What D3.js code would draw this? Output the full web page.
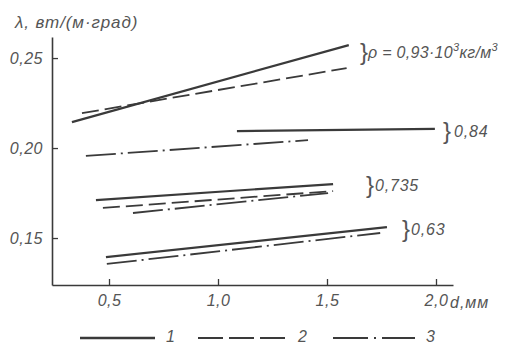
<!DOCTYPE html>
<html>
<head>
<meta charset="utf-8">
<script src="https://cdn.jsdelivr.net/npm/d3@7"></script>
<style>
  html, body { margin: 0; padding: 0; background: #fff; }
  svg { display: block; }
  text { font-family: "Liberation Sans", "DejaVu Sans", sans-serif; font-style: italic; fill: #555; }
</style>
</head>
<body>
<svg id="chart" width="517" height="347"></svg>
<script>
// ---- data (d, мм ; λ, вт/(м·град)) ----
const xTicks = [0.5, 1.0, 1.5, 2.0];
const yTicks = [0.15, 0.20, 0.25];
const curveTypes = ["1", "2", "3"];          // 1 solid, 2 dashed, 3 dash-dot
const densityLabels = ["0,93", "0,84", "0,735", "0,63"];

// ρ = 0.93
const rho093_1 = [[0.33, 0.2144], [1.60, 0.2572]];
const rho093_2 = [[0.376, 0.2194], [1.59, 0.2444]];
// ρ = 0.84
const rho084_1 = [[1.087, 0.2094], [1.995, 0.2106]];
const rho084_3 = [[0.394, 0.1956], [1.413, 0.2044]];
// ρ = 0.735
const rho0735_1 = [[0.44, 0.1711], [1.528, 0.1800]];
const rho0735_2 = [[0.472, 0.1667], [1.528, 0.1761]];
const rho0735_3 = [[0.61, 0.1639], [1.505, 0.1750]];
// ρ = 0.63
const rho063_1 = [[0.486, 0.1394], [1.775, 0.1561]];
const rho063_3 = [[0.49, 0.1356], [1.744, 0.1528]];

const lines = [
  {pts: rho093_1, type: "1"}, {pts: rho093_2, type: "2"},
  {pts: rho084_1, type: "1"}, {pts: rho084_3, type: "3"},
  {pts: rho0735_1, type: "1"}, {pts: rho0735_2, type: "2"}, {pts: rho0735_3, type: "3"},
  {pts: rho063_1, type: "1"}, {pts: rho063_3, type: "3"}
];

const ink = "#3a3a3a";
const dashFor = {"1": null, "2": "17,6", "3": "30,5,2,5"};
const widthFor = {"1": 2.2, "2": 1.8, "3": 1.8};

const svg = d3.select("#chart");
const x = d3.scaleLinear().domain([0.2385, 2.078]).range([52, 453]);
const y = d3.scaleLinear().domain([0.1239, 0.2617]).range([285, 37]);
const comma = f => v => d3.format(f)(v).replace(".", ",");

// axes
const xAxis = d3.axisBottom(x).tickValues(xTicks).tickFormat(comma(".1f"))
  .tickSizeInner(-6).tickSizeOuter(0).tickPadding(10);
const yAxis = d3.axisLeft(y).tickValues(yTicks).tickFormat(comma(".2f"))
  .tickSizeInner(-6).tickSizeOuter(0).tickPadding(9);

const gx = svg.append("g").attr("transform", `translate(0,${y.range()[0]})`).call(xAxis);
const gy = svg.append("g").attr("transform", `translate(${x.range()[0]},0)`).call(yAxis);
[gx, gy].forEach(g => {
  g.select(".domain").attr("stroke", ink).attr("stroke-width", 1.6);
  g.selectAll(".tick line").attr("stroke", ink).attr("stroke-width", 1.3);
  g.selectAll(".tick text").style("font-size", "16px").style("font-family", "'Liberation Sans', sans-serif")
    .style("font-style", "italic").style("letter-spacing", "0.5px").attr("fill", "#555");
});
gy.selectAll(".tick text").attr("dy", "0.36em");

// x-axis unit label
svg.append("text").attr("x", x(2.0) + 14).attr("y", y.range()[0] + 23)
  .style("font-size", "16px").style("letter-spacing", "1px").text("d,мм");
// y-axis label
svg.append("text").attr("x", 15).attr("y", 28).style("font-size", "17px")
  .style("letter-spacing", "0.9px").text("λ, вт/(м·град)");

// lines
const lineGen = d3.line().x(d => x(d[0])).y(d => y(d[1]));
svg.append("g").selectAll("path").data(lines).join("path")
  .attr("d", d => lineGen(d.pts))
  .attr("fill", "none").attr("stroke", ink)
  .attr("stroke-width", d => widthFor[d.type])
  .attr("stroke-dasharray", d => dashFor[d.type]);

// density labels with braces
function brace(xp, yc, h) {
  svg.append("text").attr("x", xp).attr("y", yc + h * 0.32)
    .style("font-size", h + "px").style("font-weight", "300").attr("fill", "#777")
    .style("font-style", "normal").text("}");
}
// 0.93
brace(360, 52, 24);
const t93 = svg.append("text").attr("x", 368).attr("y", 58).style("font-size", "16px")
  .style("letter-spacing", "0.3px");
t93.append("tspan").text("ρ = 0,93·10");
t93.append("tspan").attr("dy", -7).style("font-size", "11px").text("3");
t93.append("tspan").attr("dy", 7).text("кг/м");
t93.append("tspan").attr("dy", -7).style("font-size", "11px").text("3");
// others
const otherLabelPos = [
  {label: densityLabels[1], bx: 443, tx: 454, yc: 131},
  {label: densityLabels[2], bx: 366, tx: 375, yc: 185},
  {label: densityLabels[3], bx: 402, tx: 411, yc: 229}
];
otherLabelPos.forEach(o => {
  brace(o.bx, o.yc, 24);
  svg.append("text").attr("x", o.tx).attr("y", o.yc + 6).style("font-size", "16px")
    .style("letter-spacing", "0.8px").text(o.label);
});

// legend
const legendItems = [
  {type: "1", x1: 80, x2: 155, tx: 166},
  {type: "2", x1: 198, x2: 290, tx: 298},
  {type: "3", x1: 333, x2: 415, tx: 426}
];
const lg = svg.append("g");
legendItems.forEach((it, i) => {
  lg.append("line").attr("x1", it.x1).attr("x2", it.x2).attr("y1", 338).attr("y2", 338)
    .attr("stroke", ink).attr("stroke-width", widthFor[it.type] + 0.4)
    .attr("stroke-dasharray", it.type === "2" ? "25,6" : it.type === "3" ? "35,6,2,6" : null);
  lg.append("text").attr("x", it.tx).attr("y", 342).style("font-size", "16px").text(curveTypes[i]);
});
</script>
</body>
</html>
